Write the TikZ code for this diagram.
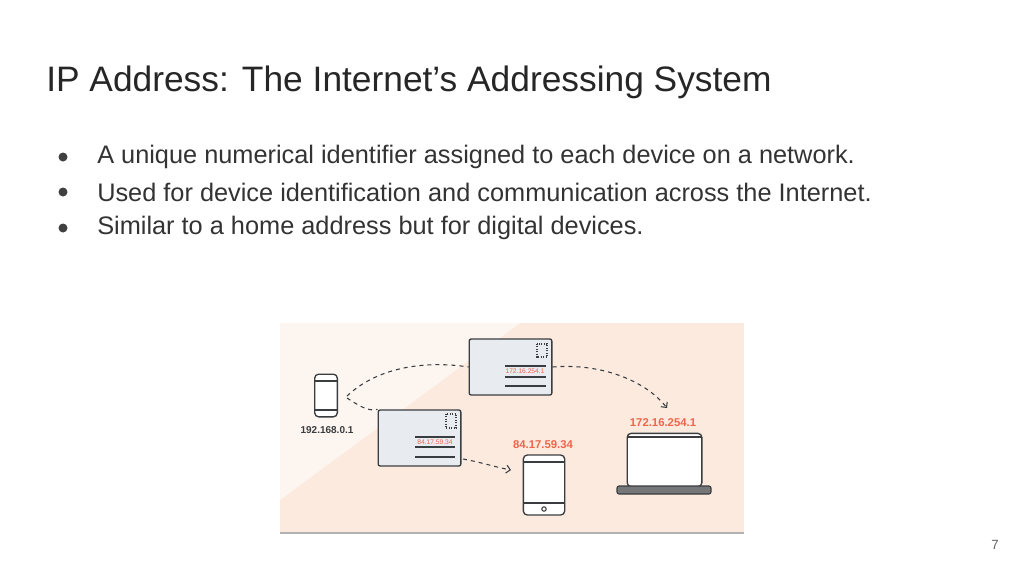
\documentclass[tikz,border=0pt]{standalone}
\usepackage{fontspec}
\setmainfont{Liberation Sans}
\usetikzlibrary{arrows.meta}
\definecolor{peach}{HTML}{FCEADF}
\definecolor{ipred}{HTML}{F0654A}
\definecolor{envfill}{HTML}{E8ECF0}
\definecolor{edge}{HTML}{3A3D40}
\tikzset{
  envbox/.style={draw=edge, line width=1pt, fill=envfill, rounded corners=1.5pt},
  devbox/.style={draw=edge, line width=1pt, fill=white, rounded corners=3pt},
  iplabel/.style={text=ipred, font=\fontsize{5}{6}\selectfont, inner sep=0.5pt},
  flow/.style={draw=edge, line width=0.8pt, dashed, -{Straight Barb[length=3pt,width=6pt]}},
  bullettext/.style={anchor=west, font=\fontsize{19}{22}\selectfont, text=black!80, inner sep=0pt}
}
\begin{document}
\begin{tikzpicture}[x=0.75pt,y=-0.75pt]
\useasboundingbox (0,0) rectangle (1024,576);
\fill[white] (0,0) rectangle (1024,576);
% title and bullets
\node[anchor=west, font=\fontsize{26.5}{30}\selectfont, text=black!85, inner sep=0pt] (title) at (46,82) {IP Address: The Internet’s Addressing System};
\foreach \y/\txt [count=\i] in {157/A unique numerical identifier assigned to each device on a network.,
  192/Used for device identification and communication across the Internet.,
  228/Similar to a home address but for digital devices.}{
  \fill[black!75] (63,\y) circle (4.5);
  \node[bullettext] (b\i) at (97,\y) {\txt};
}
\node[text=black!60, font=\fontsize{10}{11}\selectfont] (page) at (995,545) {7};
% picture background
\fill[peach] (280,323) rectangle (744,533);
\fill[white, opacity=0.55] (280,323) -- (520,323) -- (280,500) -- cycle;
\draw[black!30, line width=1pt] (280,533) -- (744,533);
% phone
\node[devbox, minimum width=17pt, minimum height=32pt] (phone) at (326,395.5) {};
\draw[edge, line width=1pt] (315,381) -- (337,381) (315,410) -- (337,410);
\node[font=\fontsize{7.5}{8}\selectfont\bfseries, text=edge] (phonelbl) at (327,430) {192.168.0.1};
% top envelope
\node[envbox, minimum width=62pt, minimum height=42pt] (env1) at (510.5,367) {};
\draw[edge, line width=0.8pt, densely dotted] (537,344) rectangle (547,357);
\draw[edge, line width=0.8pt] (505,366) -- (546,366) (505,377) -- (546,377) (505,386) -- (546,386);
\node[iplabel, fill=envfill] (ip1) at (525,371.5) {172.16.254.1};
% lower envelope
\node[envbox, minimum width=62pt, minimum height=42pt] (env2) at (419.5,438) {};
\draw[edge, line width=0.8pt, densely dotted] (446,414) rectangle (456,428);
\draw[edge, line width=0.8pt] (415,437) -- (455,437) (415,447) -- (455,447) (415,457) -- (455,457);
\node[iplabel, fill=envfill] (ip2) at (435,442) {84.17.59.34};
% tablet
\node[devbox, minimum width=31pt, minimum height=45pt] (tablet) at (544,485) {};
\draw[edge, line width=1pt] (523,462) -- (565,462) (523,503) -- (565,503);
\draw[edge, line width=0.8pt] (544,509) circle (2.2);
\node[text=ipred, font=\fontsize{8.5}{9}\selectfont\bfseries] (tabletlbl) at (543,445) {84.17.59.34};
% laptop
\node[devbox, minimum width=56pt, minimum height=40pt] (laptop) at (664.5,460) {};
\draw[edge, line width=1pt] (627,437) -- (702,437);
\fill[edge!70!white, draw=edge, line width=0.8pt, rounded corners=1.5pt] (617,486) rectangle (711,494);
\node[text=ipred, font=\fontsize{8.5}{9}\selectfont\bfseries] (laptoplbl) at (663,423) {172.16.254.1};
% routes
\coordinate (laptoptip) at (667,408);
\coordinate (tablettip) at (511,470);
\draw[flow, -] (347,396) .. controls (380,365) and (430,361) .. (env1.west);
\draw[flow] (env1.east) .. controls (600,363) and (645,380) .. (laptoptip);
\draw[flow, -] (347,398) .. controls (358,405) and (368,412) .. (env2.north west);
\draw[flow] (463,459) .. controls (480,462) and (495,467) .. (tablettip);
\end{tikzpicture}
\end{document}
